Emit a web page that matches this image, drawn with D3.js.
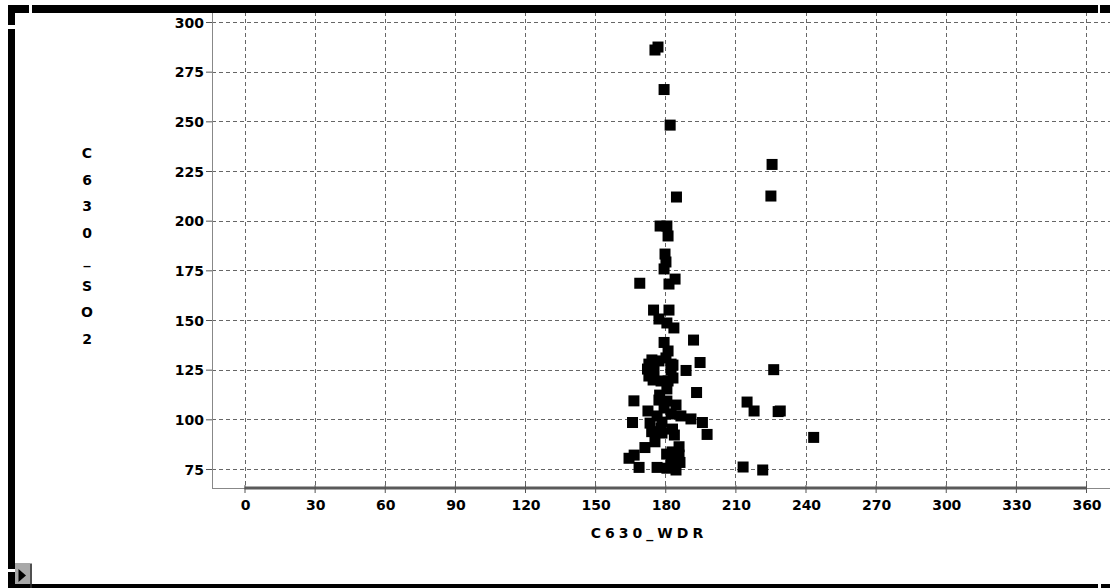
<!DOCTYPE html>
<html>
<head>
<meta charset="utf-8">
<script src="https://cdn.jsdelivr.net/npm/d3@7"></script>
<style>
  body { margin: 0; background: #fff; }
  svg { display: block; }
  .tick text { font-family: "DejaVu Sans", sans-serif; font-weight: bold; font-size: 14px; fill: #000; }
</style>
</head>
<body>
<svg id="chart"></svg>
<script>
// C630_WDR (wind direction) vs C630_SO2
var wdr = [175.6, 176.9, 179.5, 182.1, 225.7, 225.2, 184.8, 177.8, 180.7, 181.2,
           179.9, 180.3, 179.5, 169.1, 181.6, 184.2, 175.0, 181.6, 177.3, 180.7,
           183.7, 192.1, 179.5, 181.2, 194.9, 173.0, 177.3, 182.5, 173.0, 175.2,
           182.5, 183.3, 178.2, 188.9, 193.4, 180.7, 177.3, 166.6, 180.7, 172.6,
           176.5, 182.5, 186.7, 191.0, 166.0, 195.9, 197.9, 174.2, 183.1, 183.9,
           175.6, 171.3, 185.9, 185.9, 166.7, 164.5, 180.6, 182.5, 186.3, 168.8,
           176.5, 180.7, 243.5, 215.0, 218.0, 228.3, 229.2, 226.4, 213.3, 221.7,
           179.5, 178.2, 172.4, 174.3, 180.3, 183.3, 181.2, 174.8, 177.6, 184.6,
           178.6, 173.5, 178.6, 184.6, 182.9]
var so2 = [285.9, 287.4, 266.0, 248.1, 228.3, 212.4, 211.9, 197.3, 197.3, 192.3,
           183.2, 179.2, 175.7, 168.5, 168.1, 170.6, 155.0, 155.0, 150.5, 148.5,
           146.0, 139.9, 138.7, 134.4, 128.6, 127.8, 129.4, 127.8, 121.8, 124.3,
           124.8, 120.8, 119.3, 124.6, 113.5, 115.3, 109.7, 109.3, 109.2, 104.2,
           101.7, 102.7, 101.7, 100.2, 98.4, 98.4, 92.4, 93.8, 95.1, 92.1,
           88.7, 85.8, 86.2, 82.0, 82.0, 80.4, 82.5, 79.5, 78.3, 75.8,
           75.8, 75.4, 90.9, 108.7, 104.2, 103.9, 104.2, 125.0, 76.0, 74.5,
           105.7, 95.6, 125.3, 129.9, 130.9, 127.3, 119.3, 119.8, 112.2, 107.2,
           98.6, 98.1, 93.1, 74.5, 83.6]
var xTicks = [0, 30, 60, 90, 120, 150, 180, 210, 240, 270, 300, 330, 360]
var yTicks = [75, 100, 125, 150, 175, 200, 225, 250, 275, 300]
var xTitle = 'C630_WDR'
var yTitle = ['C', '6', '3', '0', '_', 'S', 'O', '2']

var width = 1110, height = 588
var plotLeft = 212, plotRight = 1110, plotTop = 12, plotBottom = 488

var svg = d3.select('#chart').attr('width', width).attr('height', height)

var x = d3.scaleLinear().domain([0, 360]).range([244.5, 1086])
var y = d3.scaleLinear().domain([75, 300]).range([469, 22])

// grid
var grid = svg.append('g').attr('stroke', '#666').attr('stroke-dasharray', '4,3').attr('stroke-width', 1)
grid.selectAll('.vgrid').data(xTicks).enter().append('line')
  .attr('x1', function(d){return Math.round(x(d)) + 0.5})
  .attr('x2', function(d){return Math.round(x(d)) + 0.5})
  .attr('y1', plotTop).attr('y2', plotBottom)
grid.selectAll('.hgrid').data(yTicks).enter().append('line')
  .attr('x1', plotLeft).attr('x2', plotRight)
  .attr('y1', function(d){return Math.round(y(d)) + 0.5})
  .attr('y2', function(d){return Math.round(y(d)) + 0.5})

// axis lines
svg.append('line').attr('x1', plotLeft + 0.5).attr('x2', plotLeft + 0.5)
  .attr('y1', plotTop).attr('y2', plotBottom + 1).attr('stroke', '#888')
svg.append('line').attr('x1', plotLeft).attr('x2', plotRight)
  .attr('y1', plotBottom + 0.5).attr('y2', plotBottom + 0.5).attr('stroke', '#888')
svg.append('line').attr('x1', x(0)).attr('x2', x(360))
  .attr('y1', plotBottom).attr('y2', plotBottom).attr('stroke', '#5a5a5a').attr('stroke-width', 3)

// axes
var xAxis = svg.append('g').attr('transform', 'translate(0,' + (plotBottom - 3) + ')')
  .call(d3.axisBottom(x).tickValues(xTicks).tickSize(8).tickPadding(6))
xAxis.select('.domain').remove()
xAxis.selectAll('.tick line').attr('stroke', '#555')
xAxis.selectAll('.tick text').attr('dy', '0.75em').attr('dx', 0.5)

var yAxis = svg.append('g').attr('transform', 'translate(' + plotLeft + ',0)')
  .call(d3.axisLeft(y).tickValues(yTicks).tickSize(6).tickPadding(2))
yAxis.select('.domain').remove()
yAxis.selectAll('.tick line').attr('stroke', '#555')
yAxis.selectAll('.tick text').attr('dy', '0.36em').attr('x', -8)

// titles
svg.append('text').attr('x', 649).attr('y', 538)
  .attr('text-anchor', 'middle')
  .style('font-family', '"DejaVu Sans", sans-serif').style('font-weight', 'bold')
  .style('font-size', '14px').style('letter-spacing', '4px')
  .text(xTitle)

svg.selectAll('.ytitle').data(yTitle).enter().append('text')
  .attr('x', 87).attr('y', function(d, i){return 158 + i*26.5})
  .attr('text-anchor', 'middle')
  .style('font-family', '"DejaVu Sans", sans-serif').style('font-weight', 'bold')
  .style('font-size', '14px')
  .text(function(d){return d})

// points
var s = 11
svg.append('g').selectAll('rect').data(wdr).enter().append('rect')
  .attr('x', function(d){return x(d) - s/2})
  .attr('y', function(d, i){return y(so2[i]) - s/2})
  .attr('width', s).attr('height', s)
  .attr('fill', '#000')

// window frame
var frame = svg.append('g').attr('fill', '#000')
frame.append('rect').attr('x', 8).attr('y', 5).attr('width', 21).attr('height', 8)
frame.append('rect').attr('x', 8).attr('y', 5).attr('width', 7).attr('height', 20)
frame.append('rect').attr('x', 32).attr('y', 5).attr('width', 1066).attr('height', 8)
frame.append('rect').attr('x', 1100).attr('y', 5).attr('width', 10).attr('height', 8)
frame.append('rect').attr('x', 8).attr('y', 29).attr('width', 7).attr('height', 540)
frame.append('rect').attr('x', 8).attr('y', 572).attr('width', 7).attr('height', 16)
frame.append('rect').attr('x', 15).attr('y', 584).attr('width', 1083).attr('height', 4)
frame.append('rect').attr('x', 1101).attr('y', 584).attr('width', 9).attr('height', 4)

// scroll button bottom-left
svg.append('rect').attr('x', 15).attr('y', 563).attr('width', 17).attr('height', 21).attr('fill', '#a8a8a8')
svg.append('line').attr('x1', 31).attr('x2', 31).attr('y1', 564).attr('y2', 588).attr('stroke', '#333').attr('stroke-width', 1.5)
svg.append('path').attr('d', 'M18.5,569 L26,575.5 L18.5,582 Z').attr('fill', '#000')
</script>
</body>
</html>
